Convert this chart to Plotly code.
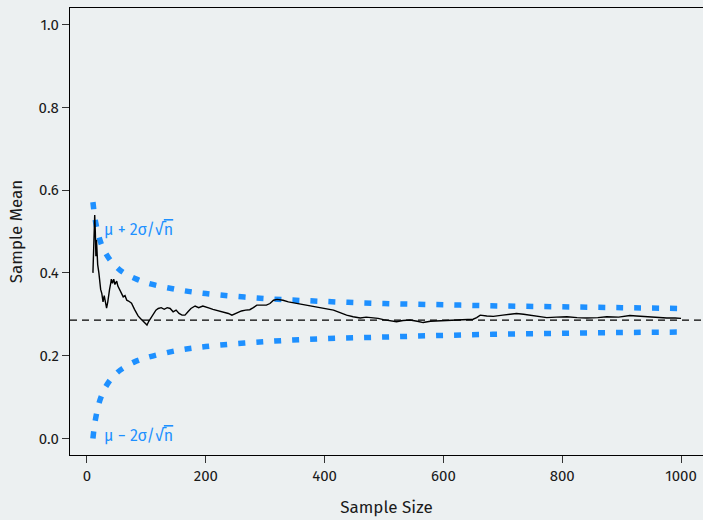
import plotly.graph_objects as go

# Running sample mean
n_vals = [10, 12, 13, 14, 15, 16, 17, 18, 20, 22, 23, 25, 27, 29, 31, 33, 35, 36, 38, 40,
          41, 43, 45, 47, 50, 52, 55, 58, 61, 64, 67, 70, 75, 80, 86, 90, 95, 98, 101, 104,
          107, 109, 113, 116, 120, 125, 130, 135, 140, 145, 150, 155, 160, 165, 170, 175, 182, 188, 195, 201,
          206, 212, 218, 225, 232, 238, 244, 250, 255, 260, 267, 274, 280, 286, 292, 297, 302, 308, 314, 320,
          330, 339, 347, 355, 362, 370, 380, 392, 403, 415, 426, 437, 448, 460, 470, 482, 490, 499, 510, 521,
          532, 544, 556, 566, 578, 589, 600, 611, 628, 639, 650, 656, 662, 673, 684, 700, 718, 723, 735, 746,
          760, 774, 790, 808, 825, 841, 860, 875, 895, 914, 925, 942, 960, 976, 990, 1000]
mean_vals = [0.40, 0.47, 0.54, 0.50, 0.44, 0.48, 0.45, 0.42, 0.40, 0.37, 0.36, 0.35, 0.33, 0.345, 0.33, 0.315, 0.33, 0.346, 0.36, 0.375,
             0.385, 0.375, 0.385, 0.372, 0.38, 0.368, 0.36, 0.352, 0.342, 0.345, 0.334, 0.332, 0.327, 0.312, 0.296, 0.29, 0.283, 0.278, 0.274, 0.283,
             0.29, 0.296, 0.305, 0.31, 0.314, 0.316, 0.312, 0.316, 0.314, 0.306, 0.31, 0.302, 0.298, 0.298, 0.306, 0.314, 0.32, 0.316, 0.32, 0.318,
             0.315, 0.312, 0.31, 0.308, 0.304, 0.302, 0.298, 0.302, 0.306, 0.308, 0.31, 0.311, 0.316, 0.322, 0.322, 0.322, 0.322, 0.326, 0.334, 0.336,
             0.334, 0.33, 0.328, 0.326, 0.324, 0.322, 0.32, 0.316, 0.313, 0.31, 0.304, 0.298, 0.294, 0.291, 0.293, 0.292, 0.29, 0.287, 0.285, 0.282,
             0.285, 0.286, 0.283, 0.28, 0.283, 0.284, 0.284, 0.286, 0.287, 0.287, 0.288, 0.292, 0.298, 0.296, 0.295, 0.298, 0.30, 0.302, 0.30, 0.298,
             0.295, 0.292, 0.293, 0.294, 0.292, 0.291, 0.292, 0.294, 0.293, 0.297, 0.296, 0.294, 0.292, 0.291, 0.291, 0.29]

# Bounds mu +/- 2 sigma / sqrt(n)
bound_n = [10, 12, 15, 20, 25, 30, 40, 50, 60, 80, 100, 150, 200, 300, 400, 500, 600, 700, 800, 900, 1000]
upper_vals = [0.571, 0.547, 0.519, 0.488, 0.466, 0.451, 0.429, 0.414, 0.402, 0.387, 0.376, 0.360, 0.350, 0.338, 0.331, 0.326, 0.323, 0.320, 0.318, 0.316, 0.314]
lower_vals = [0.000, 0.025, 0.052, 0.084, 0.105, 0.121, 0.143, 0.158, 0.169, 0.185, 0.195, 0.212, 0.222, 0.234, 0.241, 0.245, 0.249, 0.252, 0.254, 0.256, 0.257]
mu = 0.2857

x_ticks = [0, 200, 400, 600, 800, 1000]
y_ticks = [0.0, 0.2, 0.4, 0.6, 0.8, 1.0]

BLUE = "#1E90FF"
BG = "#ECF0F1"
FONT = "Fira Sans, Noto Sans, sans-serif"

fig = go.Figure()
for yv in (upper_vals, lower_vals):
    fig.add_trace(go.Scatter(x=bound_n, y=yv, mode="lines",
                             line=dict(color=BLUE, width=5.5, dash="7px,11px", shape="spline"),
                             hoverinfo="skip", showlegend=False))
fig.add_trace(go.Scatter(x=n_vals, y=mean_vals, mode="lines",
                         line=dict(color="black", width=1.4), showlegend=False))

fig.add_hline(y=mu, line=dict(color="black", width=1.2, dash="7px,5px"))

sqrt_n = "√<span style='text-decoration:overline'>n</span>"
fig.add_annotation(x=26, y=0.506, text="μ + 2σ/" + sqrt_n, showarrow=False,
                   xanchor="left", yanchor="middle", font=dict(color=BLUE, size=16, family=FONT))
fig.add_annotation(x=26, y=0.007, text="μ − 2σ/" + sqrt_n, showarrow=False,
                   xanchor="left", yanchor="middle", font=dict(color=BLUE, size=16, family=FONT))

fig.update_layout(
    width=703, height=520,
    paper_bgcolor=BG, plot_bgcolor=BG,
    margin=dict(l=70, r=0, t=8, b=65),
    font=dict(family=FONT, size=15, color="#1a1a1a"),
    xaxis=dict(range=[-28.6, 1037], tickvals=x_ticks, showgrid=False, zeroline=False,
               showline=True, linecolor="black", linewidth=1.3, mirror=True,
               ticks="outside", ticklen=7, tickcolor="#333333", tickwidth=1,
               title=dict(text="Sample Size", standoff=16, font=dict(size=17))),
    yaxis=dict(range=[-0.04, 1.04], tickvals=y_ticks, tickformat=".1f", showgrid=False, zeroline=False,
               showline=True, linecolor="black", linewidth=1.3, mirror=False,
               ticks="outside", ticklen=7, tickcolor="#333333", tickwidth=1,
               title=dict(text="Sample Mean", standoff=11, font=dict(size=17))),
)

fig.write_html("out.html", config={"displayModeBar": False},
               post_script="document.body.style.margin='0';document.body.style.overflow='hidden';")
